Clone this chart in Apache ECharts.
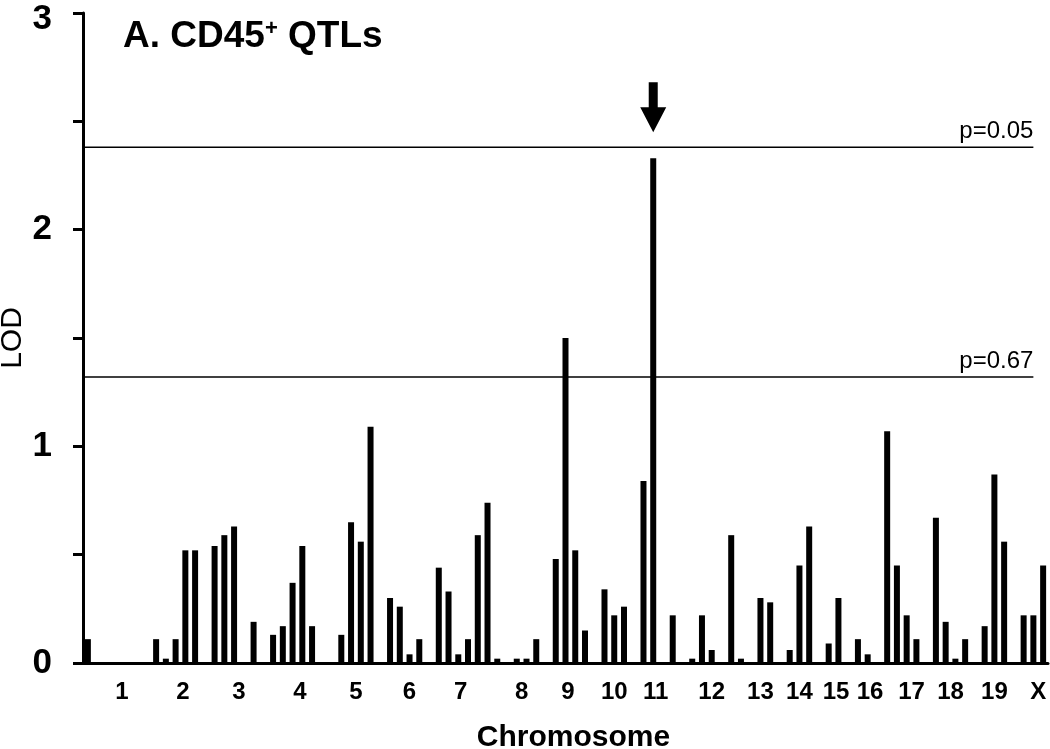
<!DOCTYPE html>
<html>
<head>
<meta charset="utf-8">
<script src="https://cdn.jsdelivr.net/npm/echarts@6/dist/echarts.min.js"></script>
<style>
  html, body { margin: 0; padding: 0; background: #fff; }
  #main { width: 1050px; height: 749px; }
</style>
</head>
<body>
<div id="main"></div>
<script>
// LOD per marker (99 slots, empty slots = 0)
var lodValues = [
  0.11, 0, 0, 0, 0, 0, 0, 0.11, 0.02, 0.11,
  0.52, 0.52, 0, 0.54, 0.59, 0.63, 0, 0.19, 0, 0.13,
  0.17, 0.37, 0.54, 0.17, 0, 0, 0.13, 0.65, 0.56, 1.09,
  0, 0.30, 0.26, 0.04, 0.11, 0, 0.44, 0.33, 0.04, 0.11,
  0.59, 0.74, 0.02, 0, 0.02, 0.02, 0.11, 0, 0.48, 1.50,
  0.52, 0.15, 0, 0.34, 0.22, 0.26, 0, 0.84, 2.33, 0,
  0.22, 0, 0.02, 0.22, 0.06, 0, 0.59, 0.02, 0, 0.30,
  0.28, 0, 0.06, 0.45, 0.63, 0, 0.09, 0.30, 0, 0.11,
  0.04, 0, 1.07, 0.45, 0.22, 0.11, 0, 0.67, 0.19, 0.02,
  0.11, 0, 0.17, 0.87, 0.56, 0, 0.22, 0.22, 0.45
];
var markers = lodValues.map(function (v, i) { return String(i); });

// chromosome labels and their position along the marker axis
var chromNames = ['1', '2', '3', '4', '5', '6', '7', '8', '9', '10',
  '11', '12', '13', '14', '15', '16', '17', '18', '19', 'X'];
var chromPos = [4.0, 10.25, 16.0, 22.25, 28.0, 33.5, 38.75, 45.0, 49.75, 54.5,
  58.75, 64.5, 69.5, 73.5, 77.25, 80.75, 85.0, 89.0, 93.5, 98.0];

// significance thresholds
var thresholds = [2.38, 1.32];
var thresholdNames = ['p=0.05', 'p=0.67'];
var lineEnd = 97.5;

var peakIndex = 58;

var font = 'Liberation Sans, Arial, sans-serif';
var chart = echarts.init(document.getElementById('main'));

function thresholdSeries(val, text) {
  return {
    type: 'line',
    xAxisIndex: 1,
    yAxisIndex: 0,
    silent: true,
    symbol: 'circle',
    symbolSize: 0,
    lineStyle: { color: '#000', width: 1.5 },
    data: [
      [0, val],
      {
        value: [lineEnd, val],
        label: {
          show: true,
          formatter: text,
          position: 'top',
          align: 'right',
          distance: 4,
          color: '#000',
          fontSize: 24,
          fontFamily: font
        }
      }
    ]
  };
}

var option = {
  animation: false,
  backgroundColor: '#fff',
  title: {
    text: '{a|A. CD45}{s|+}{a| QTLs}',
    left: 118,
    top: 13,
    textStyle: {
      rich: {
        a: { fontSize: 37, fontWeight: 'bold', color: '#000', fontFamily: font },
        s: { fontSize: 22, fontWeight: 'bold', color: '#000', verticalAlign: 'top', padding: [0, 0, 15, 0], fontFamily: font }
      }
    }
  },
  grid: {
    left: 83,
    right: 2,
    top: 13,
    bottom: 86,
    outerBoundsMode: 'none'
  },
  xAxis: [
    {
      type: 'category',
      data: markers,
      boundaryGap: true,
      axisLine: { show: true, lineStyle: { color: '#000', width: 3 } },
      axisTick: { show: false },
      axisLabel: { show: false },
      splitLine: { show: false }
    },
    {
      type: 'value',
      min: 0,
      max: 99,
      interval: 0.25,
      position: 'bottom',
      axisLine: { show: false },
      axisTick: { show: false },
      splitLine: { show: false },
      axisLabel: {
        margin: 17,
        color: '#000',
        fontSize: 24,
        fontWeight: 'bold',
        fontFamily: font,
        formatter: function (v) {
          for (var i = 0; i < chromPos.length; i++) {
            if (Math.abs(chromPos[i] - v) < 0.01) return chromNames[i];
          }
          return '';
        }
      },
      name: 'Chromosome',
      nameLocation: 'middle',
      nameGap: 60,
      nameMoveOverlap: false,
      nameTextStyle: {
        color: '#000',
        fontSize: 30,
        fontWeight: 'bold',
        fontFamily: font,
        padding: [0, 0, 0, 16]
      }
    }
  ],
  yAxis: {
    type: 'value',
    min: 0,
    max: 3,
    interval: 0.5,
    axisLine: { show: true, lineStyle: { color: '#000', width: 3 } },
    axisTick: { show: true, inside: false, length: 10, lineStyle: { color: '#000', width: 3 } },
    splitLine: { show: false },
    axisLabel: {
      margin: 31,
      color: '#000',
      fontSize: 35,
      fontWeight: 'bold',
      fontFamily: font,
      formatter: function (v) {
        if (v === 3) return '{t|3}';
        return v % 1 === 0 ? String(v) : '';
      },
      rich: {
        t: { fontSize: 35, fontWeight: 'bold', color: '#000', fontFamily: font, padding: [12, 0, 0, 0] }
      }
    },
    name: 'LOD',
    nameLocation: 'middle',
    nameGap: 55,
    nameMoveOverlap: false,
    nameRotate: 90,
    nameTextStyle: {
      color: '#000',
      fontSize: 30,
      fontFamily: font
    }
  },
  series: [
    {
      type: 'bar',
      xAxisIndex: 0,
      yAxisIndex: 0,
      data: lodValues,
      barWidth: 6,
      itemStyle: { color: '#000' },
      z: 3,
      markPoint: {
        silent: true,
        symbol: 'path://M8.5,0 L17.5,0 L17.5,25 L26,25 L13,50 L0,25 L8.5,25 Z',
        symbolSize: [26, 50],
        symbolOffset: [0, -51],
        itemStyle: { color: '#000' },
        label: { show: false },
        data: [{ coord: [peakIndex, lodValues[peakIndex]] }]
      }
    },
    thresholdSeries(thresholds[0], thresholdNames[0]),
    thresholdSeries(thresholds[1], thresholdNames[1])
  ]
};

chart.setOption(option);
</script>
</body>
</html>
